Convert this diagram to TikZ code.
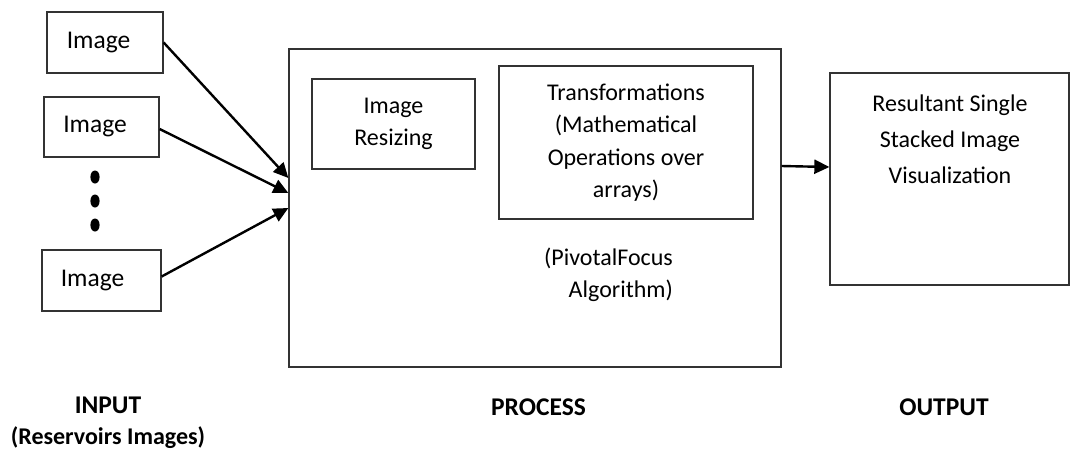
\documentclass[tikz,border=0pt]{standalone}
\usepackage{fontspec}
\setmainfont{Carlito}
\usetikzlibrary{arrows.meta}
\tikzset{
  box/.style={draw=black!80, line width=1.3pt, fill=white, inner sep=0pt, align=center,
              font=\fontsize{24}{32.5}\selectfont},
  imgbox/.style={box, font=\fontsize{25.5}{30}\selectfont},
  label/.style={inner sep=0pt, align=center, font=\fontsize{24}{32.5}\selectfont},
  heading/.style={inner sep=0pt, align=center, font=\fontsize{25.5}{31}\selectfont\bfseries},
  link/.style={line width=2.4pt, -{Triangle[length=15pt,width=14pt]}},
}
\begin{document}
\begin{tikzpicture}[x=1pt, y=-1pt]
  \useasboundingbox (0,0) rectangle (1071,451);

  % input images
  \node[imgbox, minimum width=116pt, minimum height=61pt] (img1) at (105,42.5) {Image\hspace*{13pt}};
  \node[imgbox, minimum width=115pt, minimum height=60pt] (img2) at (101.5,127) {Image\hspace*{13pt}};
  \node[imgbox, minimum width=119pt, minimum height=61pt] (img3) at (101.5,280.5) {Image\hspace*{18pt}};
  \foreach \y in {177,201,225} \fill (95,\y) ellipse [x radius=4.6pt, y radius=6.5pt];

  % processing stage
  \node[box, minimum width=492pt, minimum height=318pt] (proc) at (535,208) {};
  \node[box, minimum width=163pt, minimum height=90pt] (resize) at (393.5,124) {Image\\Resizing};
  \node[box, minimum width=254pt, minimum height=153pt] (trans) at (626,142.5)
    {Transformations\\(Mathematical\\Operations over\\arrays)};
  \node[label, align=right] (algo) at (608.5,275) {(PivotalFocus\\Algorithm)};

  % output
  \node[box, minimum width=239pt, minimum height=212pt] (out) at (949.5,179) {};
  \node[label, font=\fontsize{24}{36}\selectfont] (outtext) at (950,139)
    {Resultant Single\\Stacked Image\\Visualization};

  % connectors
  \draw[link] (img1.east) -- ([yshift=30pt]proc.west);
  \draw[link] ([yshift=-2pt]img2.east) -- ([yshift=15pt]proc.west);
  \draw[link] ([yshift=4pt]img3.east) -- (proc.west);
  \draw[link] ([yshift=42pt]proc.east) -- ([yshift=12pt]out.west);

  % stage captions
  \node[heading] (cin) at (108,423) {INPUT\\{\fontsize{24}{31}\selectfont(Reservoirs Images)}};
  \node[heading] (cproc) at (538.5,407) {PROCESS};
  \node[heading] (cout) at (944,407) {OUTPUT};
\end{tikzpicture}
\end{document}
